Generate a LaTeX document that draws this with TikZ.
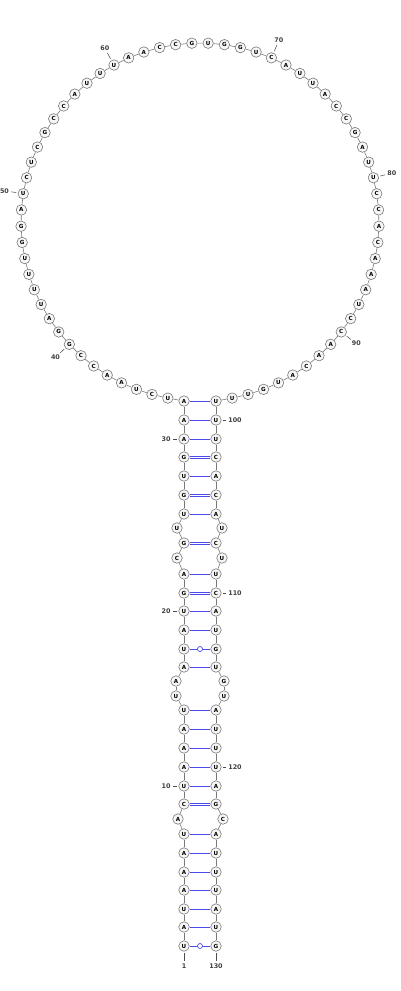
\documentclass[tikz,border=0pt]{standalone}
\usepackage{fontspec}
\newfontfamily\nucfont{DejaVu Sans}
\definecolor{pairblue}{RGB}{75,75,235}
\definecolor{bbgray}{RGB}{120,120,120}
\tikzset{
  nt/.style={circle,draw=bbgray,fill=gray!6,line width=0.6pt,inner sep=0pt,minimum size=10.5pt,font=\nucfont\bfseries\fontsize{5.6}{6}\selectfont},
  lab/.style={inner sep=0.5pt,font=\nucfont\bfseries\fontsize{6.4}{6.4}\selectfont,text=black!75},
  bb/.style={draw=bbgray,line width=0.6pt},
  pr/.style={draw=pairblue,line width=0.8pt},
  gc/.style={draw=pairblue,line width=0.6pt},
  wob/.style={circle,draw=pairblue,fill=white,line width=0.7pt,inner sep=0pt,minimum size=5pt},
  tk/.style={draw=black!70,line width=0.5pt,shorten <=1.5pt,shorten >=1.5pt}
}
\begin{document}
\begin{tikzpicture}[x=1pt,y=-1pt]
\useasboundingbox (0,0) rectangle (400,991);
\foreach \i/\x/\y/\b in {1/184/946/U,2/184/927/A,3/184/909/U,4/184/890/A,5/184/872/A,6/184/853/A,7/184/834/U,8/178/819/A,9/184/804/C,10/184/786/U,11/184/767/A,12/184/748/A,13/184/729/A,14/184/710/U,15/176/696/U,16/176/681/A,17/184/667/A,18/184/649/U,19/184/630/A,20/184/611/U,21/184/593/G,22/184/574/A,23/177/558/C,24/184/543/G,25/177/528/U,26/184/514/U,27/184/495/G,28/184/476/U,29/184/457/G,30/184/439/A,31/184/420/A,32/184/401/A}
  \node[nt] (n\i) at (\x,\y) {\b};
\foreach \i/\x/\y/\b in {130/216/946/G,129/216/927/U,128/216/909/A,127/216/890/U,126/216/872/U,125/216/853/U,124/216/834/A,123/223/819/C,122/216/804/G,121/216/786/A,120/216/767/U,119/216/748/U,118/216/729/U,117/216/710/A,116/224/696/U,115/224/681/G,114/216/667/U,113/216/649/G,112/216/630/U,111/216/611/A,110/216/593/C,109/216/574/U,108/222/558/U,107/216/543/C,106/222/528/U,105/216/514/A,104/216/495/C,103/216/476/A,102/216/457/C,101/216/439/U,100/216/420/U,99/216/401/U}
  \node[nt] (n\i) at (\x,\y) {\b};
\foreach \i/\b [evaluate=\i as \a using 95.1286+(\i-32)*5.22] in {33/U,34/C,35/U,36/A,37/A,38/C,39/C,40/G,41/G,42/A,43/U,44/U,45/U,46/U,47/G,48/G,49/A,50/U,51/C,52/U,53/C,54/G,55/C,56/C,57/A,58/U,59/U,60/U,61/A,62/A,63/C,64/C,65/G,66/U,67/G,68/G,69/U,70/C,71/A,72/U,73/U,74/A,75/C,76/C,77/G,78/A,79/U,80/U,81/C,82/C,83/A,84/C,85/A,86/A,87/A,88/U,89/C,90/C,91/A,92/A,93/C,94/A,95/U,96/G,97/U,98/U}
  \node[nt] (n\i) at ({200+179*cos(\a)},{222+179*sin(\a)}) {\b};
\foreach \i [evaluate=\i as \j using int(\i+1)] in {1,...,129}
  \draw[bb] (n\i) -- (n\j);
\foreach \i/\j in {2/129,3/128,4/127,5/126,6/125,7/124,10/121,11/120,12/119,13/118,14/117,17/114,19/112,20/111,22/109,26/105,28/103,30/101,31/100,32/99}
  \draw[pr] (n\i) -- (n\j);
\foreach \i/\j in {9/122,21/110,24/107,27/104,29/102}{
  \draw[gc] ([yshift=1.2pt]n\i.east) -- ([yshift=1.2pt]n\j.west);
  \draw[gc] ([yshift=-1.2pt]n\i.east) -- ([yshift=-1.2pt]n\j.west);
}
\foreach \i/\j in {1/130,18/113}
  \draw[pr] (n\i) -- node[wob] (w\i) {} (n\j);
\node[lab] (l1) at (184,966) {1};
\node[lab] (l130) at (216,966) {130};
\node[lab] (l10) at (166,786) {10};
\node[lab] (l20) at (166,611) {20};
\node[lab] (l30) at (166,439) {30};
\node[lab] (l100) at (235,420) {100};
\node[lab] (l110) at (235,593) {110};
\node[lab] (l120) at (235,767) {120};
\foreach \i [evaluate=\i as \a using 95.1286+(\i-32)*5.22] in {40,50,60,70,80,90}
  \node[lab] (l\i) at ({200+198*cos(\a)},{222+198*sin(\a)}) {\i};
\foreach \i in {1,10,20,30,40,50,60,70,80,90,100,110,120,130}
  \draw[tk] (n\i) -- (l\i);
\end{tikzpicture}
\end{document}
